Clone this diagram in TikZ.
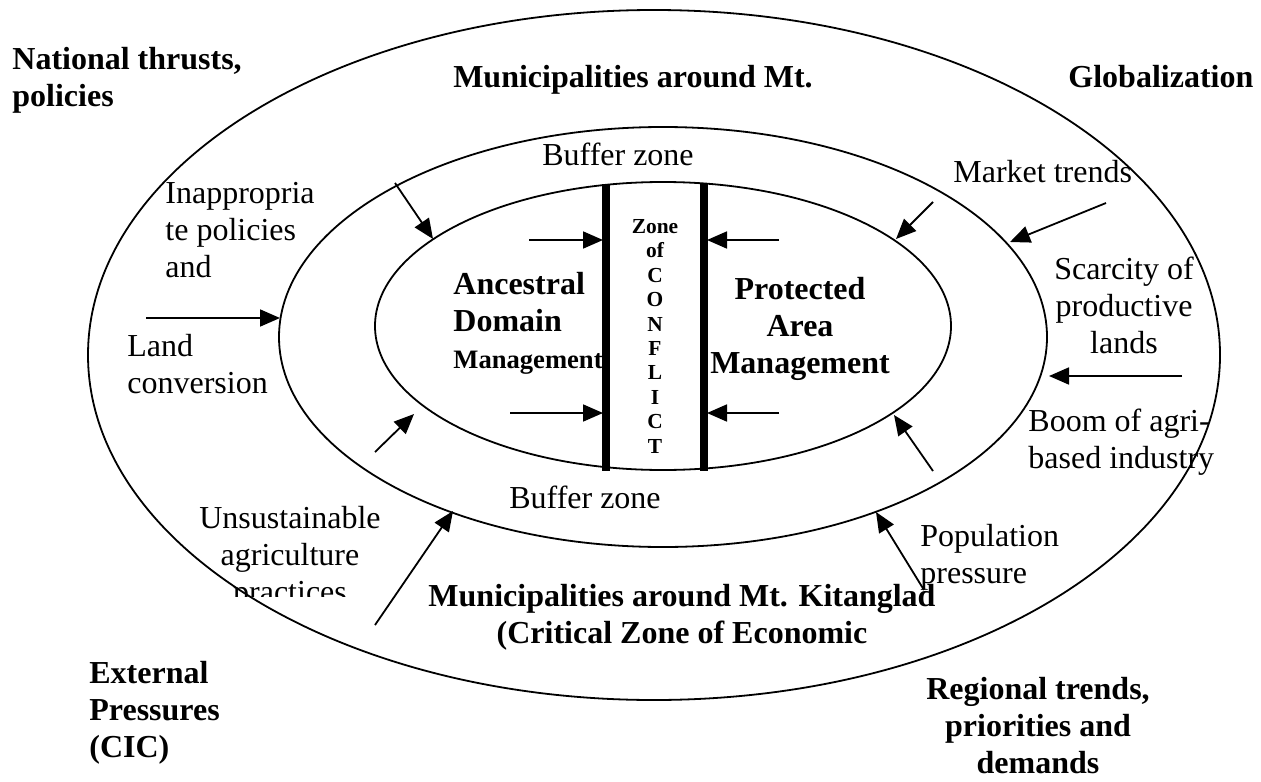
\documentclass[tikz,border=0pt]{standalone}
\usepackage{fontspec}
\setmainfont{Liberation Serif}
\usetikzlibrary{arrows.meta}

\begin{document}
\begin{tikzpicture}[x=0.5pt,y=-0.5pt]
    \tikzset{ring/.style = {draw,line width=0.9pt}}
    \tikzset{wall/.style = {draw,line width=3.6pt}}
    \tikzset{txt/.style = {inner sep=0pt,font=\fontsize{16}{18.3}\selectfont}}
    \tikzset{hdr/.style = {inner sep=0pt,font=\fontsize{16}{18.3}\selectfont\bfseries}}
    \tikzset{flecha/.style = {-{Triangle[length=10pt,width=8.5pt]},line width=0.9pt}}

    \useasboundingbox (0,0) rectangle (1261,781);

    % zones
    \draw[ring] (654,355) ellipse [x radius=566,y radius=345];
    \draw[ring] (663,337) ellipse [x radius=384,y radius=210];
    \draw[ring] (663,326) ellipse [x radius=288,y radius=144];
    \draw[wall] (606,184) -- (606,471);
    \draw[wall] (704,184) -- (704,471);

    % corner labels (base = last line)
    \node[hdr,anchor=base west,align=left] (national) at (12,106) {National thrusts,\\policies};
    \node[hdr,anchor=base west] (global) at (1068,88) {Globalization};
    \node[hdr,anchor=base west,align=left] (external) at (89,757) {External\\Pressures\\(CIC)};
    \node[hdr,anchor=base,align=center] (regional) at (1038,773) {Regional trends,\\priorities and\\demands};

    % ring labels
    \node[hdr,anchor=base] (munitop) at (633,88) {Municipalities around Mt.};
    \node[hdr,anchor=base,align=center] (munibot) at (682,643) {Municipalities around Mt. Kitanglad\\(Critical Zone of Economic};
    \node[txt,anchor=base] (buftop) at (618,165) {Buffer zone};
    \node[txt,anchor=base] (bufbot) at (585,508) {Buffer zone};

    % core
    \node[hdr,anchor=base west,align=left] (ancestral) at (453,368) {Ancestral\\Domain\\{\fontsize{13.3}{18.3}\selectfont Management}};
    \node[hdr,anchor=base,align=center] (protected) at (800,373) {Protected\\Area\\Management};
    \node[hdr,anchor=base,align=center,font=\fontsize{10.7}{12.2}\selectfont\bfseries] (conflict) at (655,453) {Zone\\of\\C\\O\\N\\F\\L\\I\\C\\T};

    % pressures
    \node[txt,anchor=base west,align=left] (inapp) at (165,277) {Inappropria\\te policies\\and};
    \node[txt,anchor=base west,align=left] (landconv) at (127,393) {Land\\conversion};
    \begin{scope}
        \clip (150,490) rectangle (430,596);
        \node[txt,anchor=base,align=center] (unsus) at (290,602) {Unsustainable\\agriculture\\practices};
    \end{scope}
    \node[txt,anchor=base west] (market) at (953,182) {Market trends};
    \node[txt,anchor=base,align=center] (scarcity) at (1124,353) {Scarcity of\\productive\\lands};
    \node[txt,anchor=base west,align=left] (boom) at (1028,468) {Boom of agri-\\based industry};
    \node[txt,anchor=base west,align=left] (population) at (920,583) {Population\\pressure};

    % arrow ends
    \coordinate (landA) at (146,318);   \coordinate (landB) at (280,318);
    \coordinate (inappA) at (395,183);  \coordinate (inappB) at (433,239);
    \coordinate (llA) at (375,452);     \coordinate (llB) at (414,414);
    \coordinate (unsusA) at (375,625);  \coordinate (unsusB) at (453,511);
    \coordinate (admA) at (529,240);    \coordinate (admB) at (603,240);
    \coordinate (admC) at (510,413);    \coordinate (admD) at (603,413);
    \coordinate (pamA) at (779,240);    \coordinate (pamB) at (707,240);
    \coordinate (pamC) at (779,413);    \coordinate (pamD) at (707,413);
    \coordinate (trA) at (933,202);     \coordinate (trB) at (896,239);
    \coordinate (marketA) at (1106,203);\coordinate (marketB) at (1010,242);
    \coordinate (scarA) at (1182,376);  \coordinate (scarB) at (1049,376);
    \coordinate (lrA) at (933,471);     \coordinate (lrB) at (894,415);
    \coordinate (popA) at (924,590);    \coordinate (popB) at (876,512);

    \draw[flecha] (landA) -- (landB);
    \draw[flecha] (inappA) -- (inappB);
    \draw[flecha] (llA) -- (llB);
    \draw[flecha] (unsusA) -- (unsusB);
    \draw[flecha] (admA) -- (admB);
    \draw[flecha] (admC) -- (admD);
    \draw[flecha] (pamA) -- (pamB);
    \draw[flecha] (pamC) -- (pamD);
    \draw[flecha] (trA) -- (trB);
    \draw[flecha] (marketA) -- (marketB);
    \draw[flecha] (scarA) -- (scarB);
    \draw[flecha] (lrA) -- (lrB);
    \draw[flecha] (popA) -- (popB);

\end{tikzpicture}
\end{document}
